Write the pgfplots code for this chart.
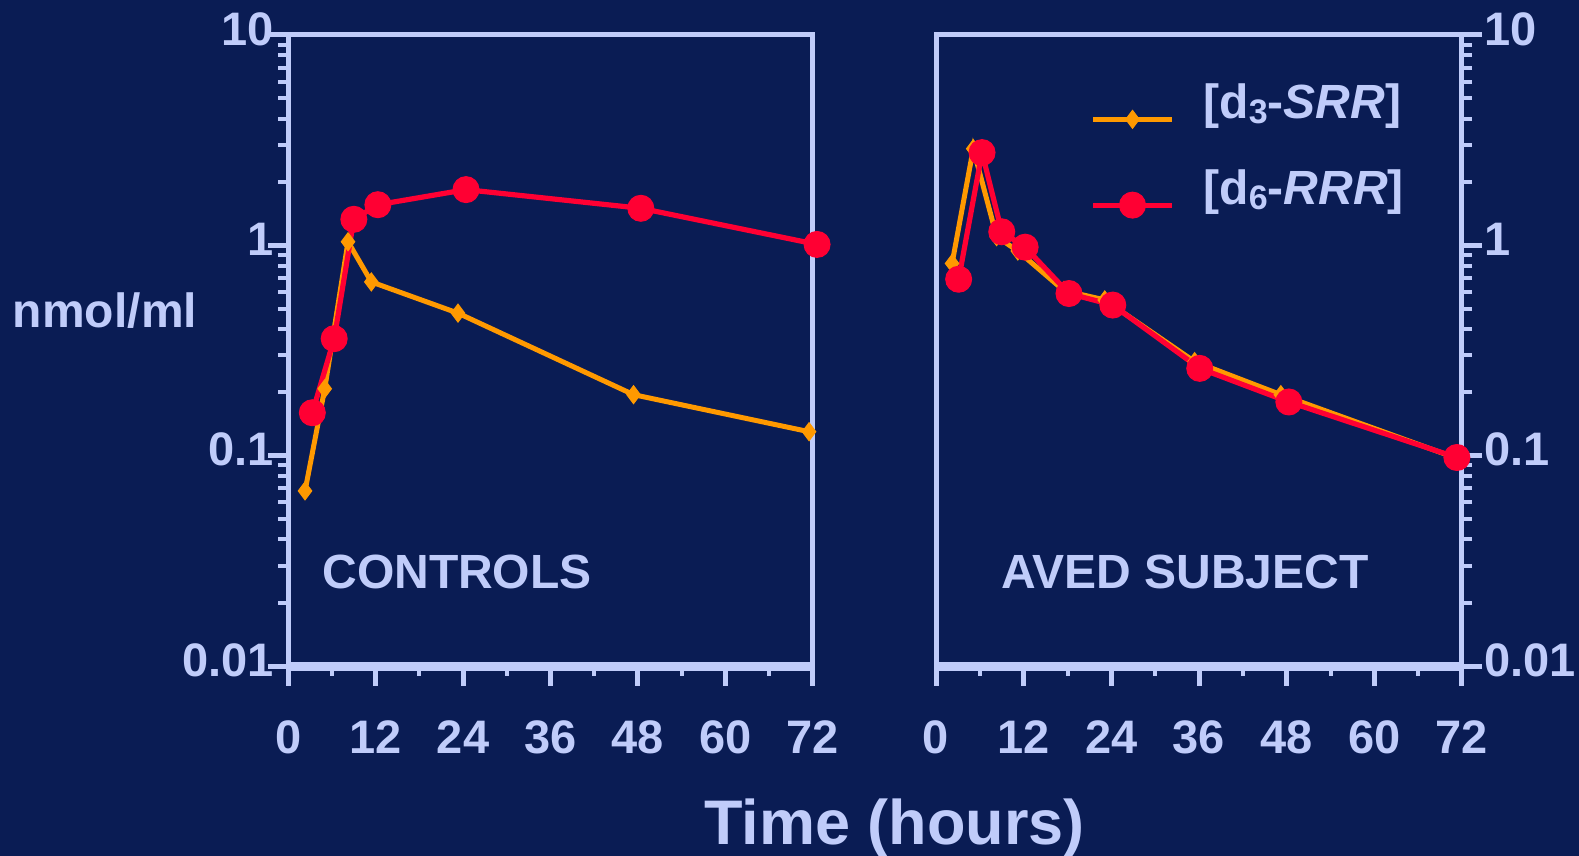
\documentclass[border=0pt]{standalone}
\usepackage{pgfplots}
\pgfplotsset{compat=1.18}
\usepackage{fontspec}
\setmainfont{Liberation Sans}
\definecolor{bg}{RGB}{10,28,84}
\definecolor{lav}{RGB}{192,204,250}
\definecolor{org}{RGB}{255,153,0}
\definecolor{rd}{RGB}{255,0,51}
\newcommand{\sub}[1]{\raisebox{-2.8pt}{\fontsize{17}{17}\selectfont #1}}
\pgfplotsset{
  mypanel/.style={
    scale only axis, height=315.5pt,
    xmin=0, xmax=72, ymin=0.01, ymax=10,
    xtick={0,12,24,36,48,60,72}, minor xtick={6,18,30,42,54,66},
    ytick={0.01,0.1,1,10}, yticklabels={0.01,0.1,1,10},
    minor ytick={0.02,0.03,0.04,0.05,0.06,0.07,0.08,0.09,0.2,0.3,0.4,0.5,0.6,0.7,0.8,0.9,2,3,4,5,6,7,8,9},
    axis line style={lav, line width=2.5pt},
    tick align=outside,
    major tick length=10pt, minor tick length=5pt,
    major tick style={lav, line width=2.5pt},
    minor tick style={lav, line width=2pt},
    xtick pos=bottom,
    tick label style={font=\bfseries\fontsize{23.5}{24}\selectfont, color=lav, inner sep=0pt},
    xticklabel style={yshift=-17pt},
    /pgf/number format/assume math mode=true,
    clip=false,
  },
}
\begin{document}
\begin{tikzpicture}
\fill[bg] (0,0) rectangle (789.5pt,428pt);
% left panel: CONTROLS
\begin{axis}[ymode=log, mypanel, width=262.2pt, at={(144.15pt,95pt)}, anchor=south west,
  ytick pos=left, yticklabel style={yshift=3pt, xshift=3pt}]
\draw[lav, line width=4.5pt] (rel axis cs:0,0) -- (rel axis cs:1,0);
\addplot[color=org, line width=2.5pt, mark=diamond*, mark size=4.5pt, mark options={line width=0.5pt, solid}] coordinates {(2.3,0.068) (5.0,0.208) (8.2,1.04) (11.4,0.67) (23.3,0.476) (47.4,0.195) (71.5,0.13)};
\addplot[color=rd, line width=2.6pt, mark=*, mark size=6.5pt, mark options={line width=0.5pt, solid}] coordinates {(3.3,0.16) (6.3,0.36) (9.0,1.33) (12.3,1.56) (24.4,1.84) (48.4,1.50) (72.6,1.01)};
\end{axis}
% right panel: AVED SUBJECT
\begin{axis}[ymode=log, mypanel, width=263pt, at={(468pt,95pt)}, anchor=south west,
  ytick pos=right, yticklabel pos=right, yticklabel style={yshift=3pt, xshift=1pt},
  legend style={at={(0.2928,0.930)}, anchor=north west, draw=none, fill=none, inner sep=0pt,
    row sep=18.5pt, column sep=12.5pt, font=\bfseries\fontsize{24}{26}\selectfont, text=lav,
    cells={anchor=base west, inner sep=0pt}},
  legend image code/.code={\draw[mark repeat=2, mark phase=2, #1] plot coordinates {(0pt,-0.5pt) (19.75pt,-0.5pt) (39.5pt,-0.5pt)};}]
\draw[lav, line width=4.5pt] (rel axis cs:0,0) -- (rel axis cs:1,0);
\addplot[color=org, line width=2.5pt, mark=diamond*, mark size=4.5pt, mark options={line width=0.5pt, solid}] coordinates {(2.2,0.82) (5.1,2.88) (8.3,1.10) (11.2,0.94) (17.5,0.61) (23.1,0.55) (35.4,0.28) (47.2,0.195) (71.0,0.098)};
\addlegendentry{[d\sub{3}-\textit{SRR}]}
\addplot[color=rd, line width=2.6pt, mark=*, mark size=6.5pt, mark options={line width=0.5pt, solid}] coordinates {(3.1,0.69) (6.3,2.76) (9.0,1.16) (12.2,0.98) (18.2,0.59) (24.2,0.52) (36.1,0.26) (48.3,0.18) (71.3,0.098)};
\addlegendentry{[d\sub{6}-\textit{RRR}]}
\end{axis}
\node[anchor=base, text=lav, font=\bfseries\fontsize{24}{26}\selectfont, inner sep=0pt] at (228.5pt,133.5pt) {CONTROLS};
\node[anchor=base, text=lav, font=\bfseries\fontsize{24}{26}\selectfont, inner sep=0pt] at (592.5pt,133.5pt) {AVED SUBJECT};
\node[anchor=base, text=lav, font=\bfseries\fontsize{24}{26}\selectfont, inner sep=0pt] at (52.5pt,264pt) {nmol/ml};
\node[anchor=base, text=lav, font=\bfseries\fontsize{31.5}{34}\selectfont, inner sep=0pt] at (447.25pt,5.5pt) {Time (hours)};
\pgfresetboundingbox
\useasboundingbox (0,0) rectangle (789.5pt,428pt);
\end{tikzpicture}
\end{document}
